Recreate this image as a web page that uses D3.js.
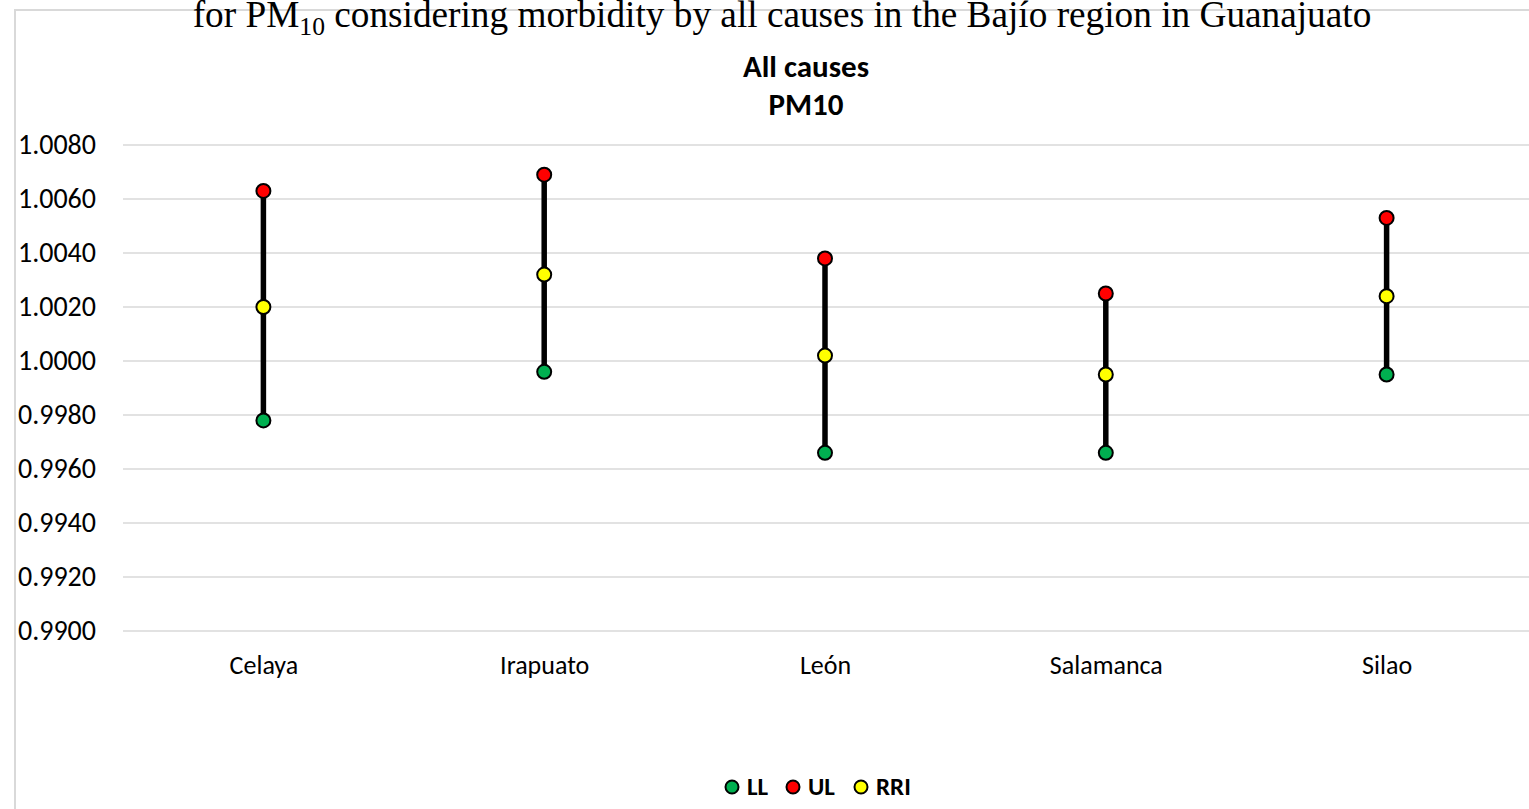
<!DOCTYPE html>
<html>
<head>
<meta charset="utf-8">
<script src="https://cdn.jsdelivr.net/npm/d3@7"></script>
<style>
  html, body { margin: 0; padding: 0; background: #fff; }
  svg { display: block; }
</style>
</head>
<body>
<svg id="chart" width="1529" height="809"></svg>
<script>
// Relative risk intervals for PM10, all-cause morbidity, by city
const cities = ["Celaya", "Irapuato", "León", "Salamanca", "Silao"];
const lowerLimit = [0.9978, 0.9996, 0.9966, 0.9966, 0.9995];   // LL
const upperLimit = [1.0063, 1.0069, 1.0038, 1.0025, 1.0053];   // UL
const relativeRisk = [1.0020, 1.0032, 1.0002, 0.9995, 1.0024]; // RRI
const yTicks = [0.9900, 0.9920, 0.9940, 0.9960, 0.9980, 1.0000, 1.0020, 1.0040, 1.0060, 1.0080];
const seriesNames = ["LL", "UL", "RRI"];
const seriesColors = ["#00B050", "#FF0000", "#FFFF00"];

const uiFont = "Carlito, 'Open Sans', 'Noto Sans', sans-serif";
const svg = d3.select("#chart");

// chart frame
svg.append("path")
  .attr("d", "M15,820 L15,10 L1540,10")
  .attr("fill", "none")
  .attr("stroke", "#d9d9d9")
  .attr("stroke-width", 2);

// caption line above the chart
const caption = svg.append("text")
  .attr("x", 782).attr("y", 27)
  .attr("text-anchor", "middle")
  .attr("font-family", "'Liberation Serif', 'Times New Roman', serif")
  .attr("font-size", 32)
  .attr("fill", "#000");
caption.append("tspan").text("for PM");
caption.append("tspan").attr("font-size", 22).attr("dy", 8).text("10");
caption.append("tspan").attr("dy", -8).text(" considering morbidity by all causes in the Bajío region in Guanajuato");
const capLen = caption.node().getComputedTextLength();
if (capLen > 0) caption.attr("font-size", 32 * 1179 / capLen)
  .selectAll("tspan").filter((d, i) => i === 1).attr("font-size", 22 * 1179 / capLen);

// chart titles
svg.append("text")
  .attr("x", 806).attr("y", 77)
  .attr("text-anchor", "middle")
  .attr("font-family", uiFont).attr("font-weight", "bold").attr("font-size", 31)
  .text("All causes");
svg.append("text")
  .attr("x", 806).attr("y", 115)
  .attr("text-anchor", "middle")
  .attr("font-family", uiFont).attr("font-weight", "bold").attr("font-size", 31)
  .text("PM10");

// scales
const x = d3.scalePoint().domain(cities).range([123, 1527]).padding(0.5);
const y = d3.scaleLinear().domain([0.99, 1.008]).range([631, 145]);

// horizontal gridlines
svg.append("g").selectAll("line")
  .data(yTicks).join("line")
  .attr("x1", 123).attr("x2", 1529)
  .attr("y1", d => y(d)).attr("y2", d => y(d))
  .attr("stroke", "#d9d9d9").attr("stroke-width", 1.5);

// y axis labels
const yAxis = svg.append("g")
  .attr("transform", "translate(96,0)")
  .call(d3.axisLeft(y).tickValues(yTicks).tickFormat(d3.format(".4f")).tickSize(0).tickPadding(0));
yAxis.select(".domain").remove();
yAxis.selectAll("text")
  .attr("font-family", uiFont).attr("font-size", 28).attr("fill", "#000");

// x axis labels
const xAxis = svg.append("g")
  .attr("transform", "translate(0,652)")
  .call(d3.axisBottom(x).tickSize(0).tickPadding(0));
xAxis.select(".domain").remove();
xAxis.selectAll("text")
  .attr("dy", null).attr("y", 22)
  .attr("font-family", uiFont).attr("font-size", 26).attr("fill", "#000");

// interval rows
const rows = cities.map((c, i) => ({ city: c, ll: lowerLimit[i], ul: upperLimit[i], rri: relativeRisk[i] }));

// interval bars
svg.append("g").selectAll("line")
  .data(rows).join("line")
  .attr("x1", d => x(d.city)).attr("x2", d => x(d.city))
  .attr("y1", d => y(d.ll)).attr("y2", d => y(d.ul))
  .attr("stroke", "#000").attr("stroke-width", 5.5);

// markers for LL, UL, RRI
const keys = ["ll", "ul", "rri"];
keys.forEach((k, si) => {
  svg.append("g").selectAll("circle")
    .data(rows).join("circle")
    .attr("cx", d => x(d.city))
    .attr("cy", d => y(d[k]))
    .attr("r", 7)
    .attr("fill", seriesColors[si])
    .attr("stroke", "#000").attr("stroke-width", 2);
});

// legend
const legendX = [732, 793, 861];
const legend = svg.append("g");
seriesNames.forEach((name, i) => {
  legend.append("circle")
    .attr("cx", legendX[i]).attr("cy", 787).attr("r", 6.5)
    .attr("fill", seriesColors[i]).attr("stroke", "#000").attr("stroke-width", 2);
  legend.append("text")
    .attr("x", legendX[i] + 15).attr("y", 795)
    .attr("font-family", uiFont).attr("font-weight", "bold").attr("font-size", 25)
    .attr("fill", "#000")
    .text(name);
});
</script>
</body>
</html>
